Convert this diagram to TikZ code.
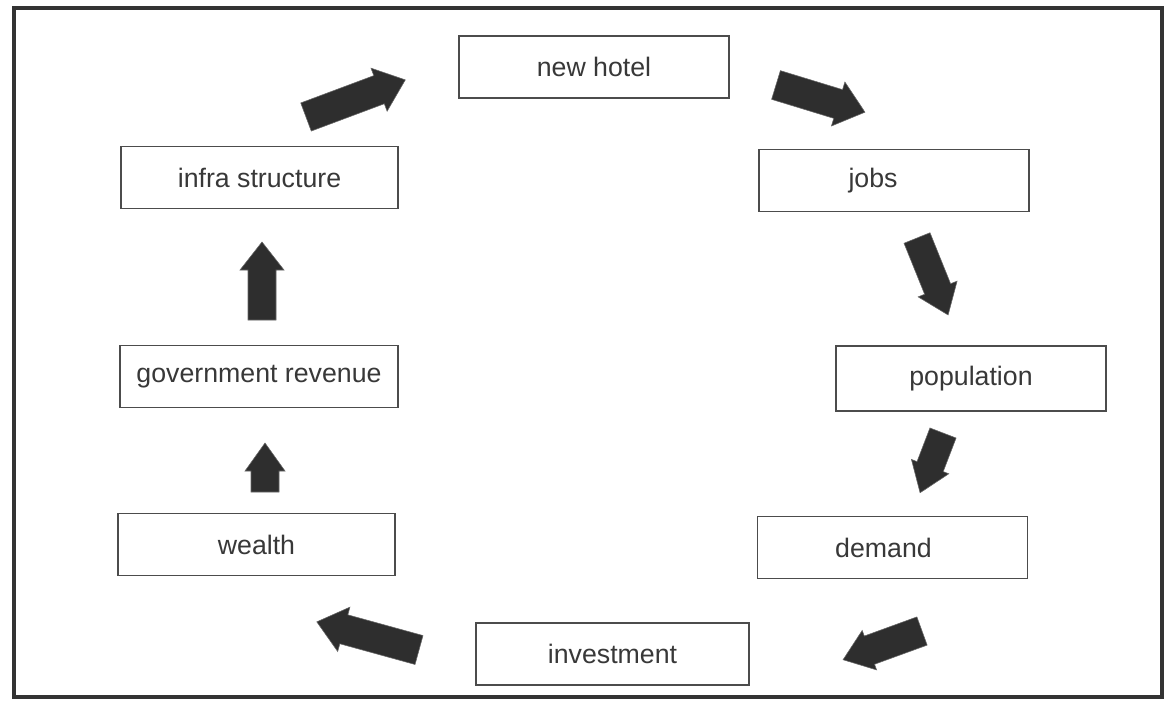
\documentclass[tikz,border=0pt]{standalone}
\usepackage{fontspec}
\setmainfont{Liberation Sans}
\begin{document}
\begin{tikzpicture}[x=0.025cm,y=0.025cm,
  box/.style={draw=black!70, line width=1.2pt, fill=white, minimum width=6.75cm,
    minimum height=1.55cm, inner sep=0pt, text=black!78,
    font=\fontsize{19}{22}\selectfont},
  arrowfill/.style={fill=black!82, draw=black!60, line width=0.4pt}]
\newcommand{\blockarrow}[6]{% x, y (tail centre), angle, length, body half width, head half width
  \begin{scope}[shift={(#1,#2)}, rotate=#3]
    \path[arrowfill] (0,-#5) -- (#4-28,-#5) -- (#4-28,-#6) -- (#4,0) -- (#4-28,#6)
      -- (#4-28,#5) -- (0,#5) -- cycle;
  \end{scope}}
\useasboundingbox (0,0) rectangle (1168,-703);
\draw[black!80, line width=2.2pt] (14,-8) rectangle (1162,-697);
% boxes
\node[box] (hotel) at (594,-67) {new hotel};
\node[box] (jobs) at (894,-180.5) {jobs\hspace*{1.05cm}};
\node[box, minimum height=1.62cm] (pop) at (971,-378.5) {population};
\node[box] (demand) at (892.5,-547.5) {demand\hspace*{0.45cm}};
\node[box, minimum width=6.82cm] (invest) at (612.5,-654) {investment};
\node[box, minimum width=6.92cm] (wealth) at (256.5,-544.5) {wealth};
\node[box, minimum width=6.95cm] (gov) at (259,-376.5) {government revenue};
\node[box, minimum width=6.92cm] (infra) at (259.5,-177.5) {infra structure};
% block arrows
\blockarrow{306}{-117}{20.5}{106}{15}{23}
\blockarrow{776}{-85}{-17}{93}{15}{23}
\blockarrow{917}{-238}{-68}{83}{14}{21}
\blockarrow{943}{-433}{-111}{64}{14}{20}
\blockarrow{922}{-631}{200}{84}{15}{21}
\blockarrow{419}{-650}{164.6}{106}{15}{23}
\blockarrow{265}{-492}{90}{49}{14}{20}
\blockarrow{262}{-320}{90}{78}{14}{22}
\end{tikzpicture}
\end{document}
